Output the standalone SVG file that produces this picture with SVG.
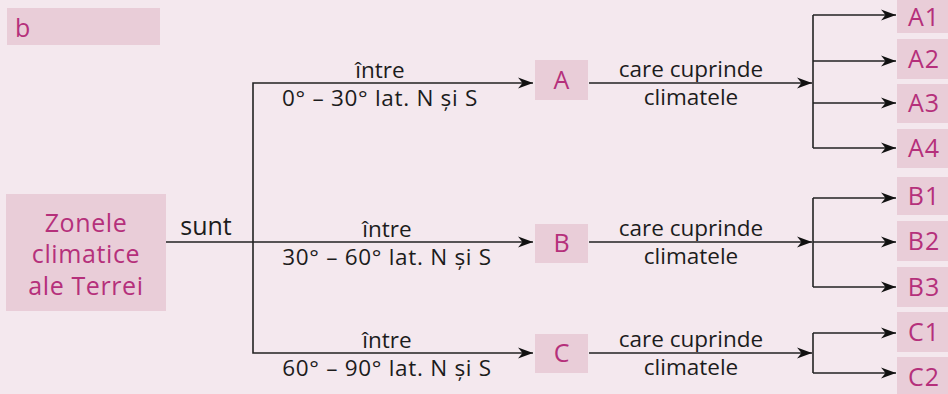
<svg xmlns="http://www.w3.org/2000/svg" width="948" height="394" viewBox="0 0 948 394">
<style>
.bx{fill:#e9cdd8}
.mt{fill:#b5307b;font-family:"Open Sans","Noto Sans",sans-serif;font-size:25px}
.lb{fill:#1c1c1c;font-family:"Open Sans","Noto Sans",sans-serif;font-size:22.5px;text-anchor:middle}
.dg{letter-spacing:0.7px}
.ln{fill:none;stroke:#222;stroke-width:1.6}
.ar{marker-end:url(#ah)}
</style>
<defs>
<marker id="ah" markerUnits="userSpaceOnUse" markerWidth="16" markerHeight="12" refX="15" refY="6" orient="auto">
<path d="M0,0.5 L15,6 L0,11.5 L4.5,6 z" fill="#111"/>
</marker>
</defs>
<rect width="948" height="394" fill="#f4e8ee"/>

<g id="label-b">
<rect class="bx" x="7" y="8" width="153" height="37"/>
<text class="mt" x="15" y="37" font-size="24">b</text>
</g>

<g id="root">
<rect class="bx" x="6" y="194" width="160" height="117"/>
<text class="mt" x="86" y="232" text-anchor="middle" font-size="26" letter-spacing="0.6">Zonele</text>
<text class="mt" x="86" y="263" text-anchor="middle" font-size="26" letter-spacing="0.6">climatice</text>
<text class="mt" x="86" y="295" text-anchor="middle" font-size="26" letter-spacing="0.6">ale Terrei</text>
</g>

<g id="node-A"><rect class="bx" x="535" y="60" width="53" height="40"/><text class="mt" x="561.5" y="89" text-anchor="middle">A</text></g>
<g id="node-B"><rect class="bx" x="535" y="224" width="53" height="39"/><text class="mt" x="561.5" y="252" text-anchor="middle">B</text></g>
<g id="node-C"><rect class="bx" x="535" y="334" width="53" height="39"/><text class="mt" x="561.5" y="362" text-anchor="middle">C</text></g>

<g id="node-A1"><rect class="bx" x="897" y="0" width="60" height="33"/><text class="mt" x="924" y="26" text-anchor="middle" letter-spacing="1" font-size="24">A1</text></g>
<g id="node-A2"><rect class="bx" x="897" y="39" width="60" height="40"/><text class="mt" x="924" y="68" text-anchor="middle" letter-spacing="1">A2</text></g>
<g id="node-A3"><rect class="bx" x="897" y="84" width="60" height="39"/><text class="mt" x="924" y="112" text-anchor="middle" letter-spacing="1">A3</text></g>
<g id="node-A4"><rect class="bx" x="897" y="129" width="60" height="39"/><text class="mt" x="924" y="157" text-anchor="middle" letter-spacing="1">A4</text></g>
<g id="node-B1"><rect class="bx" x="897" y="177" width="60" height="38"/><text class="mt" x="924" y="205" text-anchor="middle" letter-spacing="1">B1</text></g>
<g id="node-B2"><rect class="bx" x="897" y="221" width="60" height="40"/><text class="mt" x="924" y="250" text-anchor="middle" letter-spacing="1">B2</text></g>
<g id="node-B3"><rect class="bx" x="897" y="267" width="60" height="40"/><text class="mt" x="924" y="296" text-anchor="middle" letter-spacing="1">B3</text></g>
<g id="node-C1"><rect class="bx" x="897" y="312" width="60" height="40"/><text class="mt" x="924" y="341" text-anchor="middle" letter-spacing="1">C1</text></g>
<g id="node-C2"><rect class="bx" x="897" y="357" width="60" height="40"/><text class="mt" x="924" y="386" text-anchor="middle" letter-spacing="1">C2</text></g>

<g id="connectors">
<path class="ln ar" d="M166,242 H533"/>
<path class="ln ar" d="M253,242 V83 H533"/>
<path class="ln ar" d="M253,242 V353 H533"/>

<path class="ln ar" d="M589,83 H812"/>
<path class="ln" d="M813,15 V148"/>
<path class="ln ar" d="M813,15 H896"/>
<path class="ln ar" d="M813,61 H896"/>
<path class="ln ar" d="M813,103 H896"/>
<path class="ln ar" d="M813,148 H896"/>

<path class="ln ar" d="M589,242 H812"/>
<path class="ln" d="M813,198 V287"/>
<path class="ln ar" d="M813,198 H896"/>
<path class="ln ar" d="M813,242 H896"/>
<path class="ln ar" d="M813,287 H896"/>

<path class="ln ar" d="M589,353 H812"/>
<path class="ln" d="M813,333 V373"/>
<path class="ln ar" d="M813,333 H896"/>
<path class="ln ar" d="M813,373 H896"/>
</g>

<g id="labels">
<text x="206" y="235" fill="#1c1c1c" font-family="Open Sans, Noto Sans, sans-serif" font-size="25" text-anchor="middle">sunt</text>
<text class="lb" x="380" y="78">între</text>
<text class="lb dg" x="380" y="106">0° – 30° lat. N și S</text>
<text class="lb" x="387" y="237">între</text>
<text class="lb dg" x="387" y="265">30° – 60° lat. N și S</text>
<text class="lb" x="387" y="348">între</text>
<text class="lb dg" x="387" y="376">60° – 90° lat. N și S</text>
<text class="lb" x="691" y="77">care cuprinde</text>
<text class="lb" x="691" y="105">climatele</text>
<text class="lb" x="691" y="236">care cuprinde</text>
<text class="lb" x="691" y="264">climatele</text>
<text class="lb" x="691" y="347">care cuprinde</text>
<text class="lb" x="691" y="375">climatele</text>
</g>
</svg>
